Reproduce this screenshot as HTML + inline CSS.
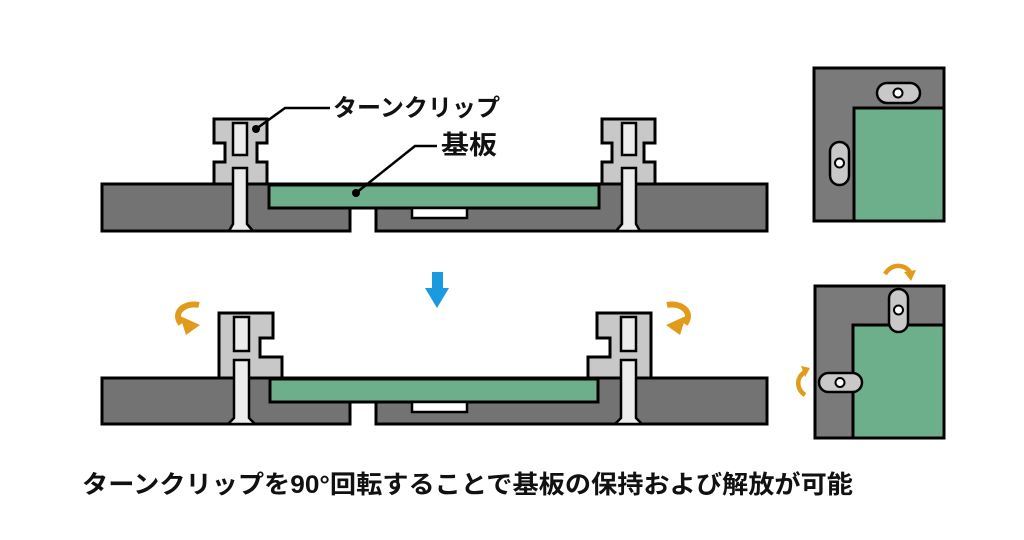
<!DOCTYPE html>
<html><head><meta charset="utf-8"><style>
html,body{margin:0;padding:0;background:#fff;}
svg{display:block;}
text{font-family:"Liberation Sans","Noto Sans CJK JP",sans-serif;font-weight:bold;fill:#111;}
</style></head><body>
<svg width="1024" height="540" viewBox="0 0 1024 540" xmlns="http://www.w3.org/2000/svg">
<defs>
<g id="topclip">
  <path d="M214,119 H267 V143 H257 V162 H267 V184 H214 V162 H225 V143 H214 Z" fill="#c8c8c8" stroke="#000" stroke-width="3"/>
  <rect x="233" y="123" width="14" height="32" fill="#ececec" stroke="#000" stroke-width="2.5"/>
  <path d="M233,168 H247 V224 L253,231 H229 L233,224 Z" fill="#ececec" stroke="#000" stroke-width="2.5"/>
</g>
<g id="botclip">
  <path d="M219,313 H273 V338 H260 V357 H282 V378 H219 Z" fill="#c8c8c8" stroke="#000" stroke-width="3"/>
  <rect x="234" y="317" width="15" height="34" fill="#ececec" stroke="#000" stroke-width="2.5"/>
  <path d="M234,360 H249 V418 L255,424 H228 L234,418 Z" fill="#ececec" stroke="#000" stroke-width="2.5"/>
</g>
<g id="orarrow">
  <path d="M199,305 C185,302 172,312 181,324" fill="none" stroke="#e29a1a" stroke-width="6"/>
  <polygon points="180,316 200,325 186,335" fill="#e29a1a"/>
</g>
</defs>

<!-- TOP SECTION -->
<polygon points="102,184 767,184 767,231 376,231 376,208 350,208 350,231 102,231" fill="#737373" stroke="#000" stroke-width="3"/>
<rect x="269" y="185" width="330" height="23" fill="#6daf8a" stroke="#000" stroke-width="3"/>
<rect x="412" y="208" width="55" height="10" fill="#fff" stroke="#000" stroke-width="2.5"/>
<use href="#topclip"/>
<use href="#topclip" transform="translate(869,0) scale(-1,1)"/>

<!-- labels -->
<polyline points="256,129 285,108 330,108" fill="none" stroke="#000" stroke-width="2.5"/>
<circle cx="256" cy="129" r="4" fill="#000"/>
<text x="333" y="116" font-size="24" textLength="167" lengthAdjust="spacingAndGlyphs">ターンクリップ</text>
<polyline points="356,193 415,146 437,146" fill="none" stroke="#000" stroke-width="2.5"/>
<circle cx="356" cy="193" r="4" fill="#000"/>
<text x="441" y="154" font-size="26" textLength="56" lengthAdjust="spacingAndGlyphs">基板</text>

<!-- blue arrow -->
<polygon points="432,272 443,272 443,288 449,288 437,308 425,288 432,288" fill="#1a9be0"/>

<!-- BOTTOM SECTION -->
<polygon points="102,378 767,378 767,424 376,424 376,402 350,402 350,424 102,424" fill="#737373" stroke="#000" stroke-width="3"/>
<rect x="270" y="379" width="328" height="23" fill="#6daf8a" stroke="#000" stroke-width="3"/>
<rect x="412" y="402" width="55" height="10" fill="#fff" stroke="#000" stroke-width="2.5"/>
<use href="#botclip"/>
<use href="#botclip" transform="translate(870,0) scale(-1,1)"/>
<use href="#orarrow"/>
<use href="#orarrow" transform="translate(866,0) scale(-1,1)"/>

<!-- RIGHT PANEL TOP -->
<rect x="814" y="68" width="130" height="153" fill="#7a7a7a" stroke="#000" stroke-width="3"/>
<path d="M854,221 V108 H944 V221 Z" fill="#6daf8a" stroke="#000" stroke-width="3"/>
<rect x="877" y="83" width="43" height="20" rx="10" fill="#c8c8c8" stroke="#000" stroke-width="2.5"/>
<circle cx="898" cy="93" r="4.5" fill="#fff" stroke="#000" stroke-width="2"/>
<rect x="830" y="142" width="19" height="43" rx="9.5" fill="#c8c8c8" stroke="#000" stroke-width="2.5"/>
<circle cx="839.5" cy="163" r="4.5" fill="#fff" stroke="#000" stroke-width="2"/>

<!-- RIGHT PANEL BOTTOM -->
<rect x="815" y="286" width="129" height="152" fill="#7a7a7a" stroke="#000" stroke-width="3"/>
<path d="M853,438 V325 H944 V438 Z" fill="#6daf8a" stroke="#000" stroke-width="3"/>
<rect x="889" y="289" width="19" height="43" rx="9.5" fill="#c8c8c8" stroke="#000" stroke-width="2.5"/>
<circle cx="898.5" cy="310" r="4.5" fill="#fff" stroke="#000" stroke-width="2"/>
<rect x="819" y="373" width="43" height="19" rx="9.5" fill="#c8c8c8" stroke="#000" stroke-width="2.5"/>
<circle cx="840" cy="382.5" r="4.5" fill="#fff" stroke="#000" stroke-width="2"/>
<!-- small orange arrows -->
<path d="M885,274 C892,263 904,264 910,272" fill="none" stroke="#e29a1a" stroke-width="4.5"/>
<polygon points="904,272 916,270 911,281" fill="#e29a1a"/>
<path d="M805,395 C796,389 796,377 805,372" fill="none" stroke="#e29a1a" stroke-width="4.5"/>
<polygon points="801,366 810,368 805,377" fill="#e29a1a"/>

<!-- caption -->
<text x="82" y="493" font-size="25" textLength="771" lengthAdjust="spacingAndGlyphs">ターンクリップを90°回転することで基板の保持および解放が可能</text>
</svg>
</body></html>
